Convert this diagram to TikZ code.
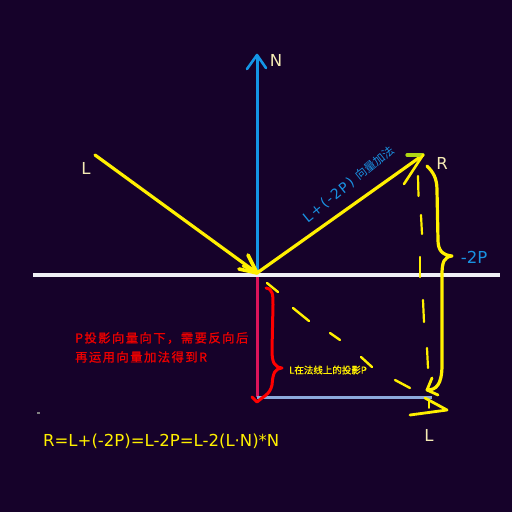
\documentclass[tikz,border=0pt]{standalone}
\usepackage{fontspec}
\setmainfont{DejaVu Sans}
\newfontfamily\latsp[LetterSpace=10]{DejaVu Sans}
\newfontfamily\cjk{Noto Sans CJK SC}
\newfontfamily\cjkbsp[LetterSpace=12,FakeBold=1.2]{Noto Sans CJK SC}
\newfontfamily\cjkb[FakeBold=1.0]{Noto Sans CJK SC}
\definecolor{bg}{RGB}{22,2,42}
\definecolor{yel}{RGB}{255,240,0}
\definecolor{yelgr}{RGB}{175,215,20}
\definecolor{nblue}{RGB}{20,150,230}
\definecolor{bluetxt}{RGB}{25,145,225}
\definecolor{cream}{RGB}{245,235,180}
\definecolor{pinkred}{RGB}{220,20,90}
\definecolor{redtxt}{RGB}{235,0,0}
\definecolor{lblue}{RGB}{140,170,220}
\definecolor{whiteln}{RGB}{240,240,245}
\tikzset{
  lbl/.style={text=cream, inner sep=0pt, font=\fontsize{16.5}{18}\selectfont},
  ystroke/.style={draw=yel, line width=3.2pt, line cap=round, line join=round},
  ythin/.style={draw=yel, line width=2.4pt, line cap=round, line join=round},
}
\begin{document}
\begin{tikzpicture}[x=1pt,y=-1pt]
\path[fill=bg] (0,0) rectangle (512,512);
\useasboundingbox (0,0) rectangle (512,512);
% key points
\coordinate (O) at (257,273);
\coordinate (Ntip) at (257,55);
\coordinate (Lstart) at (95,155);
\coordinate (Rtip) at (423,155);
\coordinate (Pend) at (257,397);
\coordinate (Hend) at (432,397);
% surface line
\draw[whiteln, line width=4pt] (33,275) -- (500,275);
% normal
\draw[nblue, line width=3pt] (O) -- (Ntip);
\draw[nblue, line width=2.6pt, line cap=round, line join=round] (247,69) -- (Ntip) -- (266,68);
% projection lines
\draw[pinkred, line width=3pt] (257,277) -- (Pend);
\draw[lblue, line width=3pt] (Pend) -- (Hend);
% incident L
\draw[ystroke] (Lstart) -- (O);
\draw[ystroke, line width=3.6pt] (248,255) -- (O) -- (239,269);
\draw[ystroke, line width=2.6pt] (250,259) -- (O) -- (243,266);
% reflected R
\draw[ystroke] (O) -- (Rtip);
\draw[draw=yelgr, line width=3.2pt, line cap=round] (407,155) -- (Rtip);
\draw[ystroke, line width=2.6pt] (Rtip) -- (404,184);
% red brace
\draw[red, line width=3pt, line cap=round, line join=round]
  (266,288) .. controls (273,289) and (273,295) .. (273,305)
  -- (272,350) .. controls (272,362) and (274,367) .. (282,368)
  .. controls (275,369) and (273,372) .. (272,385)
  .. controls (270,395) and (262,397) .. (257,402) -- (252,397);
% diagonal dashes (projection of L)
\draw[ythin] (267,283) -- (278,292);
\draw[ythin] (293,308) -- (309,321);
\draw[ythin] (330,333) -- (340,340);
\draw[ythin] (361,357) -- (372,367);
\draw[ythin] (395,380) -- (410,388);
% vertical dashes
\draw[ythin, line width=2.2pt] (418,176) -- (418.5,196);
\draw[ythin, line width=2.2pt] (421,215) -- (422,234);
\draw[ythin, line width=2.2pt] (420,257) -- (420,277);
\draw[ythin, line width=2.2pt] (423,300) -- (424,322);
\draw[ythin, line width=2.2pt] (427,348) -- (428,368);
% big yellow brace
\draw[ystroke]
  (427,166) .. controls (433,172) and (437,178) .. (437,190)
  -- (438,240) .. controls (438,250) and (442,255) .. (452,256)
  .. controls (444,257) and (442,262) .. (442,275)
  -- (442,365) .. controls (442,385) and (436,390) .. (427,390);
\draw[ystroke, line width=2.8pt] (432,378) -- (427,390) -- (438,395);
% bottom L sketch
\draw[ystroke, line width=2.8pt] (425,398) -- (447,410) -- (410,415);
\draw[ythin, line width=1.8pt] (429,400) -- (429,408);
% labels
\node[lbl] (N) at (276,60) {N};
\node[lbl] (Llab) at (86,168) {L};
\node[lbl] (Rlab) at (442,163) {R};
\node[lbl, text=bluetxt] (P2) at (474,257) {-2P};
\node[lbl] (Lbot) at (429,435) {L};
\node[text=bluetxt, inner sep=0pt, rotate=39] (vadd) at (349,184)
  {\latsp\fontsize{14}{16}\selectfont L+(-2P) {\cjk\fontsize{11.5}{13}\selectfont 向量加法}};
\node[text=yel, inner sep=0pt, anchor=west] (proj) at (289,370)
  {\cjkb\fontsize{9.5}{10}\selectfont L在法线上的投影P};
\node[text=redtxt, inner sep=0pt, anchor=west] (note1) at (75,338)
  {\cjkbsp\fontsize{12.3}{13}\selectfont P投影向量向下，需要反向后};
\node[text=redtxt, inner sep=0pt, anchor=west] (note2) at (75,357)
  {\cjkbsp\fontsize{12.3}{13}\selectfont 再运用向量加法得到R};
\node[text=yel, inner sep=0pt, anchor=west] (formula) at (43,441)
  {\fontsize{16.5}{18}\selectfont R=L+(-2P)=L-2P=L-2(L·N)*N};
\fill[gray] (37,412) rectangle (40,414);
\end{tikzpicture}
\end{document}
